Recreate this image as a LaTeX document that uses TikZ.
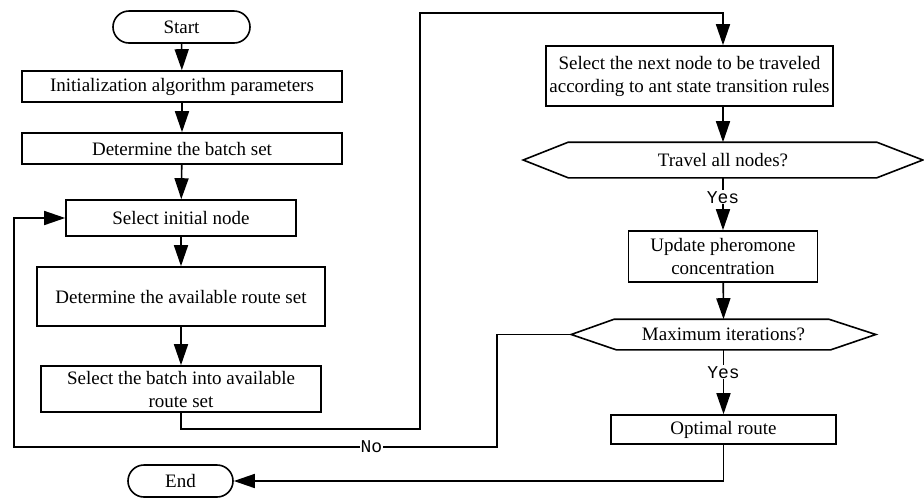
\documentclass[tikz,border=0pt]{standalone}
\usepackage{fontspec}
\setmainfont{Liberation Serif}
\newfontfamily\yesfont{Liberation Mono}
\usetikzlibrary{shapes.misc,arrows.meta,calc}
\begin{document}
\begin{tikzpicture}[x=1pt,y=-1pt,
  font=\fontsize{19}{23}\selectfont,
  line width=1.6pt,
  box/.style={draw,rectangle,inner sep=0pt,align=center},
  term/.style={draw,rounded rectangle,inner sep=0pt},
  hexa/.style={inner sep=0pt},
  arr/.style={-{Triangle[length=21pt,width=14pt]}},
  lbl/.style={fill=white,inner sep=1pt,font=\yesfont\fontsize{18}{20}\selectfont}]
\useasboundingbox (0,0) rectangle (924,499);

% left column
\node[term, minimum width=137pt, minimum height=32pt] (start) at (181.5,27) {Start};
\node[box, minimum width=320pt, minimum height=31pt] (init) at (182,86.5) {Initialization algorithm parameters};
\node[box, minimum width=320pt, minimum height=31pt] (batch) at (182,148.5) {Determine the batch set};
\node[box, minimum width=230pt, minimum height=36pt] (selinit) at (181,218) {Select initial node};
\node[box, minimum width=288pt, minimum height=59pt] (avail) at (181,296.5) {Determine the available route set};
\node[box, minimum width=280pt, minimum height=46pt] (selbatch) at (181,389) {Select the batch into available\\route set};
\node[term, minimum width=105pt, minimum height=32pt] (endn) at (180.5,481) {End};

% right column
\node[box, minimum width=287pt, minimum height=60pt] (next) at (689.5,76) {Select the next node to be traveled\\according to ant state transition rules};
\node[hexa, minimum width=398pt, minimum height=34pt] (travel) at (723,160) {Travel all nodes?};
\draw (travel.west) -- ($(travel.north west)+(45,0)$) -- ($(travel.north east)+(-46,0)$) -- (travel.east)
  -- ($(travel.south east)+(-46,0)$) -- ($(travel.south west)+(45,0)$) -- cycle;
\node[box, minimum width=189pt, minimum height=51pt] (update) at (723,256.5) {Update pheromone\\concentration};
\node[hexa, minimum width=303pt, minimum height=29pt] (maxit) at (723.5,334.5) {Maximum iterations?};
\draw (maxit.west) -- ($(maxit.north west)+(43,0)$) -- ($(maxit.north east)+(-47,0)$) -- (maxit.east)
  -- ($(maxit.south east)+(-45,0)$) -- ($(maxit.south west)+(45,0)$) -- cycle;
\node[box, minimum width=225pt, minimum height=29pt] (optimal) at (723.5,429.5) {Optimal route};

% helper coordinates
\coordinate (c1) at (420,429);
\coordinate (c2) at (723,13);
\coordinate (n1) at (497,447);
\coordinate (n2) at (14,447);

% connectors
\draw[arr] (start) -- (init);
\draw[arr] (init) -- (batch);
\draw[arr] (batch) -- (selinit);
\draw[arr] (selinit) -- (avail);
\draw[arr] (avail) -- (selbatch);
\draw[arr] (selbatch.south) |- (c1) |- (c2) -- (next.north -| c2);
\draw[arr] (next.south -| travel.north) -- (travel.north);
\draw[arr] (travel.south) -- node[lbl, pos=0.37] {Yes} (update.north);
\draw[arr] (update) -- (maxit.north);
\draw[arr] (maxit.south) -- node[lbl, pos=0.35] {Yes} (optimal.north);
\draw[arr] (maxit.west) -| (n1) -- node[lbl, pos=0.26] {No} (n2) |- (selinit.west);
\draw[arr] (optimal.south) |- (endn.east);
\end{tikzpicture}
\end{document}
